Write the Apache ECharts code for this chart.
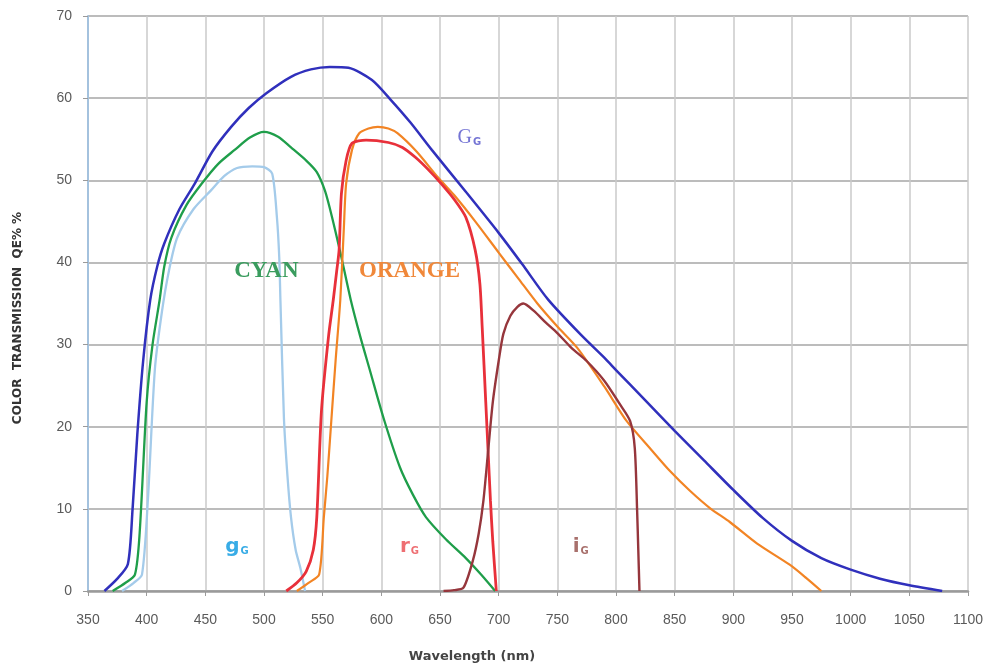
<!DOCTYPE html>
<html>
<head>
<meta charset="utf-8">
<script src="https://cdn.jsdelivr.net/npm/echarts@6/dist/echarts.min.js"></script>
<style>
  html, body { margin: 0; padding: 0; background: #fff; }
  #chart { width: 993px; height: 670px; }
</style>
</head>
<body>
<div id="chart"></div>
<script>
// wavelength (nm) / transmission (%) pairs
const gG = [[364,0],[375,1.5],[384,3.3],[388,10],[392,19],[397,28],[403,35.4],[409,39.5],[415,42.3],[428,46.5],[441,49.6],[456,53.5],[472,56.5],[487,58.8],[502,60.6],[523,62.6],[540,63.5],[556,63.8],[572,63.7],[592,62.2],[608,59.8],[625,57],[643,53.7],[672,48.6],[700,43.6],[720,39.8],[742,35.5],[770,31.2],[790,28.4],[800,26.9],[825,23.2],[850,19.5],[875,15.9],[900,12.3],[925,8.9],[950,6.1],[975,4],[1000,2.6],[1025,1.5],[1050,0.7],[1078,0]]
const cyan = [[371,0],[382,1],[390,2],[394,7],[400,23],[405,30],[411,35.4],[415,39.5],[421,43],[434,47],[447,49.6],[461,52],[475,53.7],[488,55.2],[500,55.9],[512,55.3],[523,54],[536,52.4],[545,51],[552,48.7],[558,45.5],[566,40.6],[574,35.4],[582,31],[590,27],[602,21],[616,15],[627,11.7],[638,9],[655,6.3],[672,4],[685,2],[697,0]]
const gSmall = [[379,0],[389,1],[396,2],[401,11],[407,27],[413,34],[419,39],[426,43],[440,46.5],[455,48.8],[466,50.5],[477,51.5],[490,51.7],[500,51.6],[507,50.8],[511,45.5],[513,40.6],[514,35.4],[517,21],[520,14],[523,9],[527,5],[531,2.8],[535,0]]
const orange = [[528,0],[538,1],[547,2],[551,9],[554,14],[557,20],[561,28],[565,35.4],[568,44],[570,49.6],[575,53.7],[581,55.7],[589,56.3],[597,56.5],[606,56.3],[614,55.7],[630,53.5],[648,50.4],[662,48.2],[680,45],[700,41.2],[717,38],[733,35],[750,32.2],[767,29.6],[790,24.9],[809,20.7],[830,17.2],[846,14.6],[863,12.2],[880,10.1],[897,8.4],[920,5.8],[948,3.2],[962,1.6],[975,0]]
const rG = [[519,0],[528,1],[536,2.4],[542,5],[545,9],[549,22],[555,31],[559,35.4],[562,39],[564,41.5],[566,48.4],[570,52.4],[575,54.5],[587,54.9],[606,54.6],[618,54],[629,52.8],[640,51.3],[651,49.6],[662,47.7],[672,45.5],[680,41.5],[684,37.4],[686,32],[689,23],[691,17],[693,11],[695,6],[698,0]]
const iG = [[653,0],[662,0.1],[670,0.4],[678,3.7],[683,7],[687,11],[691,17],[695,23],[700,28],[704,31.3],[710,33.5],[716,34.6],[721,35],[730,34.1],[740,32.7],[750,31.4],[762,29.6],[775,28],[790,25.6],[803,22.8],[812,20.7],[816,17.4],[818,9.8],[819,5],[820,0]]

const xTicks = { min: 350, max: 1100, step: 50 }
const yTicks = { min: 0, max: 70, step: 10 }

const chart = echarts.init(document.getElementById('chart'))

function lineSeries(name, data, color, width) {
    return {
        name,
        type: 'line',
        data,
        showSymbol: false,
        smooth: 0.25,
        lineStyle: { color, width: width || 2.2 },
        z: 3,
    }
}

// curve name with a small subscript G
function tag(main, color, x, y, font, size, weight) {
    return {
        coord: [x, y],
        symbol: 'circle',
        symbolSize: 0,
        label: {
            show: true,
            position: 'inside',
            formatter: '{a|' + main + '}{b|G}',
            rich: {
                a: { color, fontSize: size, fontWeight: weight, fontFamily: font },
                b: { color, fontSize: 10, fontWeight: 'bold', fontFamily: 'DejaVu Sans', padding: [10, 0, 0, 1] },
            },
        },
    }
}

function word(text, color, x, y) {
    return {
        coord: [x, y],
        symbol: 'circle',
        symbolSize: 0,
        label: {
            show: true,
            position: 'inside',
            formatter: text,
            color,
            fontSize: 23,
            fontWeight: 'bold',
            fontFamily: 'Liberation Serif',
        },
    }
}

const series = [
    lineSeries('G', gG, '#3030bc', 2.5),
    lineSeries('CYAN', cyan, '#1f9e4a', 2.3),
    lineSeries('g', gSmall, '#a4cbea', 2.3),
    lineSeries('ORANGE', orange, '#f28424', 2.2),
    lineSeries('r', rG, '#e8303a', 2.8),
    lineSeries('i', iG, '#96363c', 2.4),
]

series[0].markPoint = { data: [tag('G', '#7474d4', 675, 55.2, 'Liberation Serif', 20, 'normal')] }
series[1].markPoint = { data: [word('CYAN', '#3a9c5e', 502, 38.9)] }
series[3].markPoint = { data: [word('ORANGE', '#f0883a', 624, 38.9)] }
series[2].markPoint = { data: [tag('g', '#38ace6', 477, 5.4, 'DejaVu Sans', 20, 'bold')] }
series[4].markPoint = { data: [tag('r', '#ee6e72', 624, 5.4, 'DejaVu Sans', 20, 'bold')] }
series[5].markPoint = { data: [tag('i', '#a8706c', 770, 5.4, 'DejaVu Sans', 20, 'bold')] }

chart.setOption({
    backgroundColor: '#fff',
    animation: false,
    grid: { left: 88, right: 25, top: 16, bottom: 79 },
    graphic: [
        {
            type: 'text',
            x: 18,
            y: 318,
            rotation: Math.PI / 2,
            style: {
                text: 'COLOR  TRANSMISSION  QE% %',
                fill: '#333',
                font: 'bold 12px DejaVu Sans',
                align: 'center',
                verticalAlign: 'middle',
            },
        },
        {
            type: 'text',
            x: 472,
            y: 657,
            style: {
                text: 'Wavelength (nm)',
                fill: '#444',
                font: 'bold 13px DejaVu Sans',
                align: 'center',
                verticalAlign: 'middle',
            },
        },
    ],
    xAxis: {
        type: 'value',
        min: xTicks.min,
        max: xTicks.max,
        interval: xTicks.step,
        axisLine: { lineStyle: { color: '#9a9a9a', width: 2.5 } },
        axisTick: { show: true, length: 5, lineStyle: { color: '#9a9a9a' } },
        axisLabel: {
            color: '#5a5a5a',
            fontSize: 14,
            margin: 22,
            fontFamily: 'Liberation Sans Narrow, Liberation Sans',
            formatter: (v) => String(v),
        },
        splitLine: { show: true, lineStyle: { color: '#cacaca', width: 1.5 } },
    },
    yAxis: {
        type: 'value',
        min: yTicks.min,
        max: yTicks.max,
        interval: yTicks.step,
        axisLine: { show: true, lineStyle: { color: '#a4c2de', width: 2 } },
        axisTick: { show: true, length: 5, lineStyle: { color: '#9a9a9a' } },
        axisLabel: { color: '#5a5a5a', fontSize: 14, margin: 16, fontFamily: 'Liberation Sans Narrow, Liberation Sans' },
        splitLine: { show: true, lineStyle: { color: '#a6a6a6', width: 1.5 } },
    },
    series,
})
</script>
</body>
</html>
